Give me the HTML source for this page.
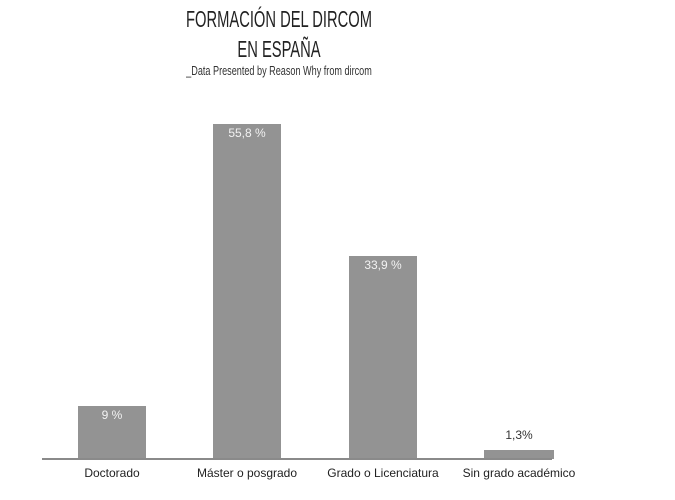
<!DOCTYPE html>
<html><head><meta charset="utf-8"><style>
body{margin:0;width:675px;height:500px;background:#fff;overflow:hidden;position:relative;font-family:"Liberation Sans",sans-serif;}
.t{position:absolute;white-space:nowrap;color:#222;}
.bar{position:absolute;background:#939393;}
.v{position:absolute;font-size:12px;color:#f2f2f2;text-align:center;}
.l{position:absolute;font-size:12px;color:#222;text-align:center;width:160px;}
</style></head><body>
<div class="t" style="left:129px;width:300px;text-align:center;top:4px;font-size:23px;line-height:30px;color:#222;transform:scaleX(0.64);transform-origin:150px 0;">FORMACIÓN DEL DIRCOM<br>EN ESPAÑA</div>
<div class="t" style="left:129px;width:300px;text-align:center;top:63px;font-size:13px;color:#333;transform:scaleX(0.7);transform-origin:150px 0;">_Data Presented by Reason Why from dircom</div>
<div class="bar" style="left:78px;top:406px;width:68px;height:53px"></div>
<div class="bar" style="left:213px;top:124px;width:68px;height:335px"></div>
<div class="bar" style="left:349px;top:256px;width:68px;height:203px"></div>
<div class="bar" style="left:484px;top:450px;width:70px;height:9px"></div>
<div style="position:absolute;left:42px;top:458px;width:510px;height:2px;background:#8a8a8a"></div>
<div class="v" style="left:78px;width:68px;top:408px">9 %</div>
<div class="v" style="left:213px;width:68px;top:126px">55,8 %</div>
<div class="v" style="left:349px;width:68px;top:258px">33,9 %</div>
<div class="v" style="left:484px;width:70px;top:428px;color:#333">1,3%</div>
<div class="l" style="left:32px;top:466px">Doctorado</div>
<div class="l" style="left:167px;top:466px">Máster o posgrado</div>
<div class="l" style="left:303px;top:466px">Grado o Licenciatura</div>
<div class="l" style="left:439px;top:466px">Sin grado académico</div>
</body></html>
